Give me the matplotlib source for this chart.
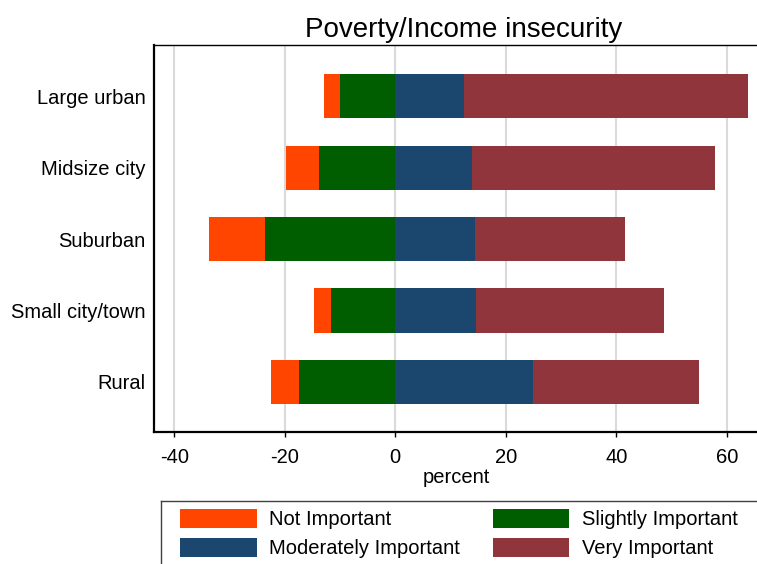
import numpy as np
import matplotlib
matplotlib.use("Agg")
import matplotlib.pyplot as plt
from matplotlib.patches import Patch

plt.rcParams['font.family'] = ['Liberation Sans', 'DejaVu Sans']
plt.rcParams['axes.unicode_minus'] = False

# data (percent), top to bottom
areas = ['Large urban', 'Midsize city', 'Suburban', 'Small city/town', 'Rural']
not_important = [2.9, 5.9, 10.1, 3.1, 5.1]
slightly_important = [10.0, 13.8, 23.6, 11.6, 17.4]
moderately_important = [12.4, 13.9, 14.5, 14.6, 24.9]
very_important = [51.4, 44.0, 27.1, 34.0, 30.1]

labels = ['Not Important', 'Slightly Important', 'Moderately Important', 'Very Important']
colors = ['#FF4500', '#005E00', '#1B476E', '#90353B']

fig = plt.figure(figsize=(7.57, 5.64), dpi=100)
W, H = 757, 564
ax = fig.add_axes([154.3 / W, 1 - 431.7 / H, (759 - 154.3) / W, (431.7 - 45.3) / H])

y = np.arange(len(areas))
ni = np.array(not_important)
si = np.array(slightly_important)
mi = np.array(moderately_important)
vi = np.array(very_important)
h = 0.62

ax.barh(y, ni, left=-(si + ni), height=h, color=colors[0], zorder=2)
ax.barh(y, si, left=-si, height=h, color=colors[1], zorder=2)
ax.barh(y, mi, left=0, height=h, color=colors[2], zorder=2)
ax.barh(y, vi, left=mi, height=h, color=colors[3], zorder=2)

ax.set_xlim(-43.62, 65.83)
ax.set_ylim(4.70, -0.715)
ax.set_yticks(y)
ax.set_yticklabels(areas)
ax.set_xticks([-40, -20, 0, 20, 40, 60])
ax.xaxis.grid(True, color='#DADADA', linewidth=1.5, zorder=0)
ax.set_axisbelow(True)

ax.tick_params(axis='y', length=0, pad=6.2, labelsize=14.5)
ax.tick_params(axis='x', length=3.6, width=1, pad=8, labelsize=14.5, direction='out')
ax.set_xlabel('percent', fontsize=14.5, labelpad=1)
ax.set_title('Poverty/Income insecurity', fontsize=20, pad=6, x=(463.5 - 154.3) / (759 - 154.3))

ax.spines['left'].set_linewidth(1.6)
ax.spines['bottom'].set_linewidth(1.6)
ax.spines['top'].set_linewidth(1.0)
ax.spines['right'].set_visible(False)

# legend box
lax = fig.add_axes([161 / W, -0.1, 1.0, (H - 500.7) / H + 0.1])
lax.set_xticks([])
lax.set_yticks([])
for s in lax.spines.values():
    s.set_color('#404040')
    s.set_linewidth(1.0)

# row-wise order: legend fills columns first
order = [0, 2, 1, 3]
handles = [Patch(facecolor=colors[i], edgecolor='none') for i in order]
lax.legend(handles, [labels[i] for i in order], ncol=2, loc='upper left',
           bbox_to_anchor=(180 / W, 1 - 509 / H), bbox_transform=fig.transFigure,
           frameon=False, borderpad=0, borderaxespad=0, fontsize=14.5,
           handlelength=3.82, handleheight=1.04, handletextpad=0.6,
           columnspacing=1.62, labelspacing=0.45)

fig.savefig('out.png', dpi=100)
